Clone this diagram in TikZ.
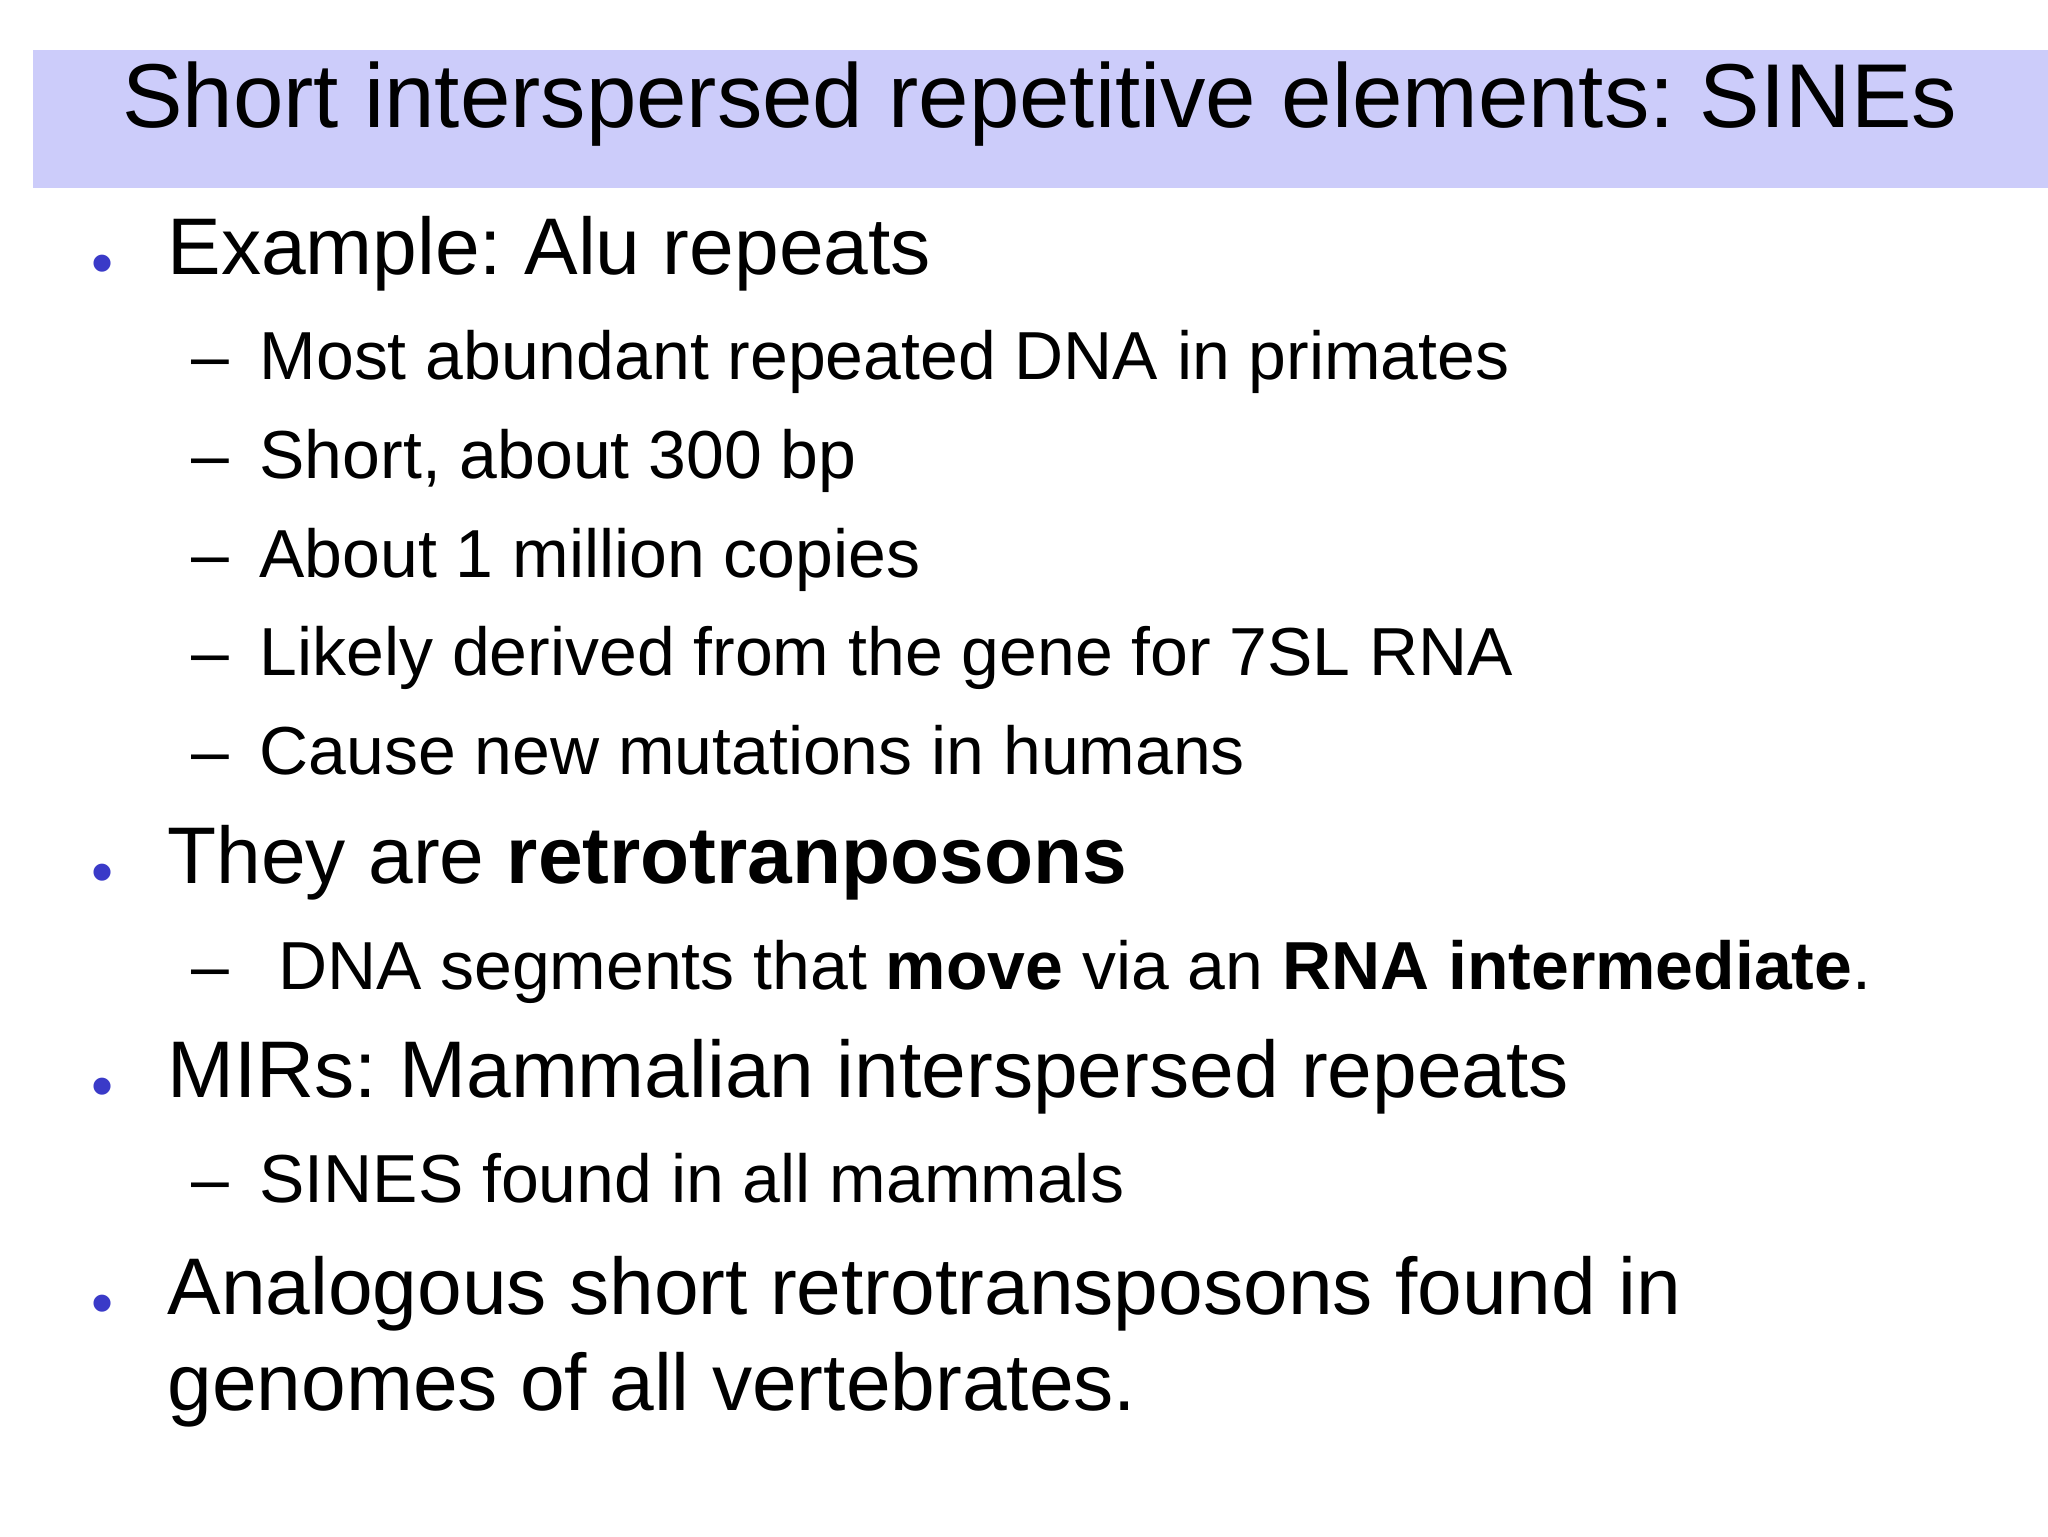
\documentclass[tikz,border=0pt]{standalone}
\usepackage{fontspec}
\setmainfont{Liberation Sans}
\frenchspacing
\definecolor{barc}{HTML}{CCCCFA}
\definecolor{bulc}{HTML}{3A3AC8}
\begin{document}
\begin{tikzpicture}[x=0.025cm,y=-0.025cm,
  lvone/.style={anchor=west,inner sep=0pt,text height=0.72em,text depth=0.21em,font=\fontsize{43.4}{52}\selectfont},
  lvtwo/.style={anchor=west,inner sep=0pt,text height=0.72em,text depth=0.21em,font=\fontsize{36.7}{44}\selectfont},
  bul/.style={anchor=center,inner sep=0pt,text=bulc,font=\fontsize{34}{40}\selectfont},
  dsh/.style={anchor=west,inner sep=0pt,text height=0.72em,text depth=0.21em,font=\fontsize{36.7}{44}\selectfont}]
\useasboundingbox (0,0) rectangle (1556,1167);
\fill[barc] (25,38) rectangle (1556,143);
\node[anchor=center,inner sep=0pt,text height=0.72em,text depth=0.21em,font=\fontsize{49}{58}\selectfont] (title) at (790,93) {Short interspersed repetitive elements: SINEs};
% level one
\foreach \n/\y/\t in {a/205/{Example: Alu repeats},b/668/{They are \textbf{retrotranposons}},c/830/{MIRs: Mammalian interspersed repeats},d/995/{Analogous short retrotransposons found in}}{
  \node[bul] (b\n) at (78,\y) {•};
  \node[lvone] (t\n) at (127,\y) {\t};
}
\node[lvone] (te) at (127,1068) {genomes of all vertebrates.};
% level two
\foreach \n/\y/\t in {1/285/{Most abundant repeated DNA in primates},2/360/{Short, about 300 bp},3/435/{About 1 million copies},4/510/{Likely derived from the gene for 7SL RNA},5/585/{Cause new mutations in humans},7/910/{SINES found in all mammals}}{
  \node[dsh] (d\n) at (145,\y) {–};
  \node[lvtwo] (s\n) at (197,\y) {\t};
}
\node[dsh] (d6) at (145,748) {–};
\node[lvtwo] (s6) at (211,748) {DNA segments that \textbf{move} via an \textbf{RNA intermediate}.};
\end{tikzpicture}
\end{document}
